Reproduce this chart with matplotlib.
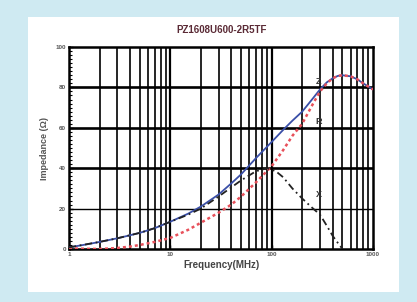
import matplotlib
matplotlib.use("Agg")
import matplotlib.pyplot as plt
from matplotlib.patches import Rectangle
import numpy as np

title = "PZ1608U600-2R5TF"
freq_z = [1, 1.5, 2, 3, 4, 5, 7, 10, 15, 20, 30, 40, 50, 70, 100, 130, 160, 200, 250, 300, 350, 400, 450, 500, 600, 700, 800, 1000]
z_vals = [0.8, 2.3, 3.5, 5.3, 6.8, 8, 10.3, 13.5, 17.5, 21, 27, 32.5, 37, 45, 53, 59, 63.5, 68, 74, 79, 82.5, 84.5, 85.7, 86, 85.5, 84, 82, 79]
freq_r = [1, 1.5, 2, 3, 4, 5, 7, 10, 15, 20, 30, 40, 50, 70, 100, 130, 160, 200, 250, 300, 350, 400, 450, 500, 600, 700, 800, 1000]
r_vals = [0.3, 0.1, 0.0, 0.5, 1.2, 2, 3.5, 5.5, 9.5, 13, 18, 22, 26, 33, 41, 49, 56, 62, 71, 78, 82, 84.5, 85.7, 86, 85.5, 84, 82, 79]
freq_x = [1, 2, 3, 5, 7, 10, 15, 20, 30, 40, 50, 70, 90, 110, 130, 160, 200, 250, 300, 350, 400, 450, 500]
x_vals = [0.8, 3.5, 5.3, 8, 10.3, 13.5, 17, 20, 26, 30.5, 34, 38.5, 40, 38.5, 35.5, 30, 25, 20.5, 17, 11.5, 6.5, 3, 0]
yticks = [0, 20, 40, 60, 80, 100]
xticks = [1, 10, 100, 1000]
xtick_labels = ["1", "10", "100", "1000"]

plt.rcParams['font.family'] = ['Liberation Sans', 'DejaVu Sans']
fig = plt.figure(figsize=(4.17, 3.02), dpi=100)
fig.patch.set_facecolor('#cfeaf2')
fig.patches.append(Rectangle((28/417, 1-292/302), (399-28)/417, (292-17)/302,
                             transform=fig.transFigure, facecolor='white',
                             edgecolor='none', zorder=-5))

ax = fig.add_axes([69/417, 1-249/302, (373-69)/417, (249-47)/302])
ax.set_zorder(5)
ax.set_facecolor('white')
ax.set_xscale('log')
ax.set_xlim(1, 1000)
ax.set_ylim(0, 100)

# grid
for dec in [1, 10, 100]:
    for m in range(2, 10):
        ax.axvline(dec*m, color='black', lw=1.2, zorder=1)
for d in [10, 100]:
    ax.axvline(d, color='black', lw=1.6, zorder=1)
ax.axhline(20, color='black', lw=1.0, zorder=1)
for h in [40, 60, 80]:
    ax.axhline(h, color='black', lw=1.9, zorder=1)

ax.plot(freq_z, z_vals, color='#3a4fa8', lw=1.3, zorder=3)
ax.plot(freq_r, r_vals, color='#e8505a', lw=1.8, ls=(0, (1.2, 1.2)), zorder=3)
ax.plot(freq_x, x_vals, color='#222222', lw=1.3, ls=(0, (4, 2, 1, 2)), zorder=3)

lbl_kw = dict(fontsize=6.5, fontweight='bold', color='#333333', ha='center', va='center', zorder=4)
ax.text(290, 83, "Z", **lbl_kw)
ax.text(288, 63, "R", **lbl_kw)
ax.text(290, 27, "X", **lbl_kw)

for s in ax.spines.values():
    s.set_linewidth(1.8)
    s.set_color('black')

ax.set_xticks(xticks)
ax.set_xticklabels(xtick_labels)
ax.xaxis.set_minor_locator(matplotlib.ticker.NullLocator())
ax.set_yticks(yticks)
ax.set_yticks(np.arange(0, 101, 2), minor=True)
ax.tick_params(axis='y', which='minor', direction='in', length=2.5, width=0.8, labelleft=False)
ax.tick_params(axis='both', which='major', direction='in', length=3, width=1.0,
               labelsize=4.5, labelcolor='#555555', pad=2)
for lab in ax.get_xticklabels() + ax.get_yticklabels():
    lab.set_fontweight('bold')

ax.set_xlabel("Frequency(MHz)", fontsize=7, fontweight='bold', color='#444444', labelpad=2)
ax.set_ylabel("Impedance (Ω)", fontsize=6.5, fontweight='bold', color='#555555', labelpad=5)
fig.text(222/417, 1-30/302, title, fontsize=7, fontweight='bold', color='#5a2a35',
         ha='center', va='center')

fig.savefig("out.png", dpi=100, facecolor=fig.get_facecolor())
